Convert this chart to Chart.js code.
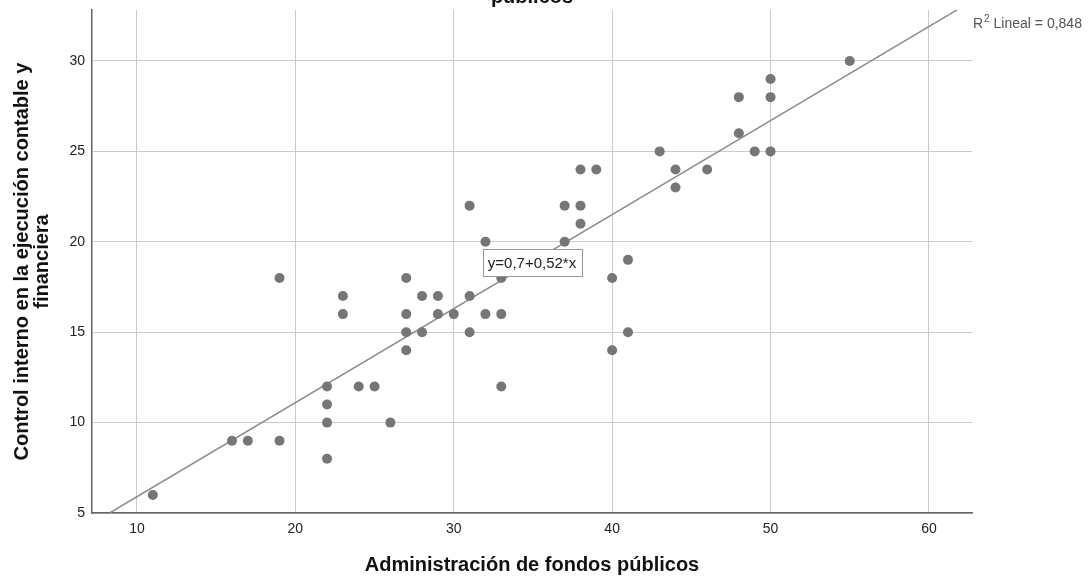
<!DOCTYPE html>
<html lang="es">
<head>
<meta charset="utf-8">
<title>Control interno vs Administración de fondos públicos</title>
<script src="https://cdn.jsdelivr.net/npm/chart.js@4/dist/chart.umd.min.js"></script>
<style>
  html, body { margin: 0; padding: 0; background: #fff; }
  #chart { display: block; }
</style>
</head>
<body>
<canvas id="chart" width="1089" height="584"></canvas>
<script>
'use strict';

// ─── Data ────────────────────────────────────────────────────────────────────

const adminX = [
  11, 16, 17, 19, 19, 22, 22, 22, 22, 23, 23, 24, 25, 26,
  27, 27, 27, 27, 28, 28, 29, 29, 30, 31, 31, 31, 32, 32,
  33, 33, 33, 37, 37, 38, 38, 38, 39, 40, 40, 41, 41, 43,
  44, 44, 46, 48, 48, 49, 50, 50, 50, 55,
];
const controlY = [
   6,  9,  9,  9, 18, 12, 11, 10,  8, 17, 16, 12, 12, 10,
  18, 16, 15, 14, 17, 15, 17, 16, 16, 22, 17, 15, 20, 16,
  18, 16, 12, 22, 20, 24, 22, 21, 24, 18, 14, 19, 15, 25,
  24, 23, 24, 28, 26, 25, 29, 28, 25, 30,
];

// fit line end points, y = 0,7 + 0,52*x
const fitX = [8.27, 61.8];
const fitY = [5, 32.84];

const xTicks = [10, 20, 30, 40, 50, 60];
const yTicks = [5, 10, 15, 20, 25, 30];

const chartTitleTail = 'públicos';
const xTitle = 'Administración de fondos públicos';
const yTitle = ['Control interno en la ejecución contable y', 'financiera'];
const fitLabel = 'y=0,7+0,52*x';
const r2Text = ' Lineal = 0,848';

// ─── Styles ───────────────────────────────────────────────────────────────────

const FONT = "'Liberation Sans', Arial, sans-serif";
const POINT_COLOR = 'rgb(118,118,118)';
const LINE_COLOR = 'rgb(140,140,140)';
const GRID_COLOR = 'rgb(204,204,204)';
const AXIS_COLOR = 'rgb(100,100,100)';

// ─── Annotation plugin: cut title, R² text, equation box ─────────────────────

const annotations = {
  id: 'annotations',
  afterDatasetsDraw(chart) {
    const { ctx, chartArea, scales } = chart;
    ctx.save();

    // bottom line of the title, mostly cut by the top edge
    ctx.fillStyle = '#111';
    ctx.font = `bold 20px ${FONT}`;
    ctx.textAlign = 'center';
    ctx.textBaseline = 'alphabetic';
    ctx.fillText(chartTitleTail, (chartArea.left + chartArea.right) / 2, 3);

    // R² text outside the plot, top right (superscript 2)
    let x = chartArea.right + 1;
    const base = 28;
    ctx.fillStyle = '#555';
    ctx.textAlign = 'left';
    ctx.font = `14px ${FONT}`;
    ctx.fillText('R', x, base);
    x += ctx.measureText('R').width + 1;
    ctx.font = `10px ${FONT}`;
    ctx.fillText('2', x, base - 6);
    x += ctx.measureText('2').width;
    ctx.font = `14px ${FONT}`;
    ctx.fillText(r2Text, x, base);

    // equation box on the fit line
    const cx = scales.x.getPixelForValue(34.94);
    const cy = scales.y.getPixelForValue(18.85);
    const w = 99, h = 27;
    ctx.fillStyle = '#fff';
    ctx.fillRect(cx - w / 2, cy - h / 2, w, h);
    ctx.strokeStyle = 'rgb(150,150,150)';
    ctx.lineWidth = 1;
    ctx.strokeRect(Math.round(cx - w / 2) + 0.5, Math.round(cy - h / 2) + 0.5, w, h);
    ctx.fillStyle = '#222';
    ctx.font = `15px ${FONT}`;
    ctx.textAlign = 'center';
    ctx.textBaseline = 'middle';
    ctx.fillText(fitLabel, cx, cy + 1);

    ctx.restore();
  },
};

// keep the plot box where the reference has it
function noEdgePadding(scale) {
  scale.paddingTop = 0;
  scale.paddingBottom = 0;
  scale.paddingLeft = 0;
  scale.paddingRight = 0;
}

// ─── Chart ────────────────────────────────────────────────────────────────────

const points = adminX.map((x, i) => ({ x, y: controlY[i] }));
const fitLine = fitX.map((x, i) => ({ x, y: fitY[i] }));

new Chart(document.getElementById('chart'), {
  type: 'scatter',
  data: {
    datasets: [
      {
        type: 'line',
        data: fitLine,
        borderColor: LINE_COLOR,
        borderWidth: 1.5,
        pointRadius: 0,
        fill: false,
        order: 2,
      },
      {
        data: points,
        backgroundColor: POINT_COLOR,
        borderColor: POINT_COLOR,
        borderWidth: 0,
        pointRadius: 5,
        order: 1,
      },
    ],
  },
  options: {
    responsive: false,
    animation: false,
    layout: { padding: { top: 10, right: 117, left: 0, bottom: 0 } },
    plugins: {
      legend: { display: false },
      tooltip: { enabled: false },
    },
    scales: {
      x: {
        type: 'linear',
        min: 7.16,
        max: 62.72,
        afterFit: (scale) => { scale.height = 71; noEdgePadding(scale); },
        afterBuildTicks: (scale) => { scale.ticks = xTicks.map((v) => ({ value: v })); },
        grid: { color: GRID_COLOR, lineWidth: 1, drawTicks: false },
        border: { color: AXIS_COLOR, width: 1.5 },
        ticks: { color: '#222', font: { family: FONT, size: 14 }, padding: 8, maxRotation: 0 },
        title: {
          display: true,
          text: xTitle,
          color: '#111',
          font: { family: FONT, size: 20, weight: 'bold', lineHeight: 1.2 },
          padding: { top: 0, bottom: 7 },
        },
      },
      y: {
        type: 'linear',
        min: 5,
        max: 32.82,
        afterFit: (scale) => { scale.width = 92; noEdgePadding(scale); },
        afterBuildTicks: (scale) => { scale.ticks = yTicks.map((v) => ({ value: v })); },
        grid: { color: GRID_COLOR, lineWidth: 1, drawTicks: false },
        border: { color: AXIS_COLOR, width: 1.5 },
        ticks: { color: '#222', font: { family: FONT, size: 14 }, padding: 7 },
        title: {
          display: true,
          text: yTitle,
          color: '#111',
          font: { family: FONT, size: 20, weight: 'bold', lineHeight: 1.0 },
          padding: { top: 12, bottom: 0 },
        },
      },
    },
  },
  plugins: [annotations],
});
</script>
</body>
</html>
